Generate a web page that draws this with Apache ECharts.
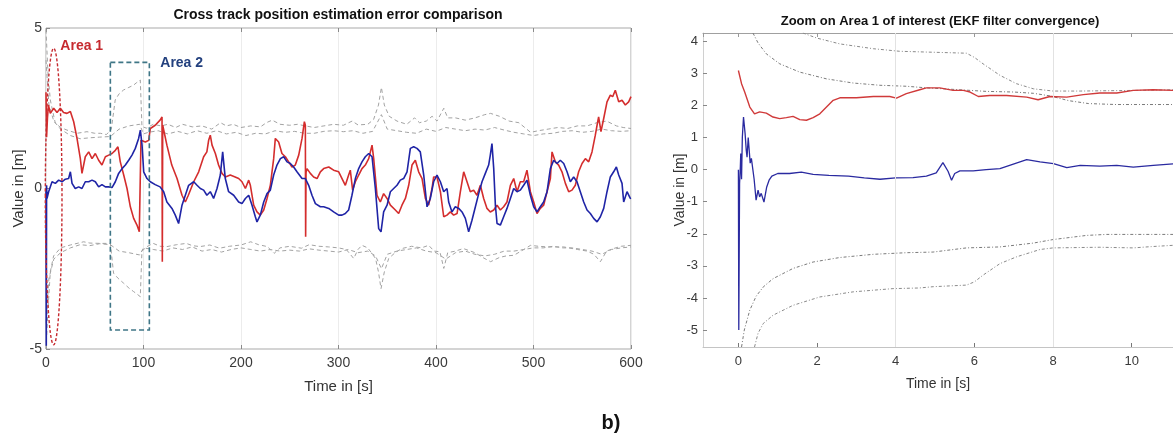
<!DOCTYPE html>
<html>
<head>
<meta charset="utf-8">
<script src="https://cdn.jsdelivr.net/npm/echarts@6/dist/echarts.min.js"></script>
<style>
html,body{margin:0;padding:0;background:#fff;}
#c{width:1173px;height:438px;}
</style>
</head>
<body>
<div id="c"></div>
<script>
// ---------------- DATA ----------------
const leftTitle = 'Cross track position estimation error comparison';
const rightTitle = 'Zoom on Area 1 of interest (EKF filter convergence)';
const xName = 'Time in [s]';
const yName = 'Value in [m]';
const panelTag = 'b)';
const area1Label = 'Area 1';
const area2Label = 'Area 2';

// Left panel: [time s, value m]
const leftRed = [[0,3.0],[0.6,1.6],[1.5,2.2],[2.5,2.6],[4.4,2.34],[7.9,2.5],[11.3,2.37],[14.7,2.5],[18,2.37],[21.5,2.34],[25,2.4],[28.4,2.08],[31.8,1.56],[35.2,0.93],[36.9,0.47],[40.3,0.99],[43.8,1.14],[47.2,0.93],[50.6,1.09],[54,0.88],[57.4,0.73],[60.9,0.99],[64.3,1.04],[67.7,1.09],[71.1,1.19],[73.8,1.3],[76.2,0.83],[79.7,0.42],[83.1,0],[86.5,-0.57],[89.9,-0.93],[93.3,-1.14],[95.7,-1.35],[97.1,-1.3],[97.4,1.5],[98.5,1.5],[101.9,1.45],[105.3,1.5],[107,1.87],[112,1.97],[117,2.13],[119,2.23],[119.3,-2.28],[119.7,1.97],[120.7,1.97],[124,1.35],[129,0.73],[134.4,0.31],[139.5,-0.21],[142.9,-0.42],[146,-0.21],[151.5,0.21],[156.6,0.52],[161.7,0.99],[165,1.14],[166.8,1.5],[168.5,1.66],[170.3,1.35],[173.7,1.09],[177,0.73],[180.5,0.47],[184,0.36],[189,0.42],[194,0.36],[197.6,0.31],[201,0.21],[204.5,0],[207.9,0.26],[209.6,0.1],[213,-0.52],[216.4,-0.73],[219.8,-0.83],[223.3,-0.67],[226.7,-0.31],[230.1,0.1],[233.5,0.93],[235.2,1.56],[238.6,1.45],[242,1.09],[245.5,0.99],[248.9,0.83],[252.3,0.67],[255.7,0.73],[259.2,1.04],[262.6,1.56],[265,2.08],[266,1.97],[266.3,-1.5],[266.7,0.5],[267.7,0.62],[271.1,0.47],[274.5,0.36],[278,0.31],[281.4,0.52],[284.8,0.62],[290,0.67],[295,0.57],[300.2,0.52],[303.6,0.31],[307,0.1],[310.4,0.42],[312.1,0.57],[314.5,-0.05],[317.3,0.21],[320.7,0.42],[324.1,0.62],[327.5,0.73],[331,0.93],[334.4,1.35],[336.1,0.93],[339.5,-0.21],[342.9,-0.42],[346.3,-0.16],[349.8,-0.31],[353.2,-0.52],[358.3,-0.67],[361.7,-0.78],[365.1,-0.52],[368.6,-0.31],[372,0.1],[375.4,0.73],[378.8,0.88],[382.2,0.52],[385.7,0.31],[389.1,-0.31],[392.5,-0.52],[395.9,0],[397.6,0.36],[401,0.36],[404.5,-0.1],[407.9,-0.88],[411.3,-0.83],[414.7,-0.73],[418.1,-0.83],[421.6,-0.78],[425,-0.1],[428.4,0.52],[431.8,0.21],[435.2,-0.1],[438.6,-0.05],[442,-0.21],[445.5,0.1],[448.9,-0.31],[452.3,-0.62],[455.7,-0.73],[459.2,-0.67],[462.6,-0.52],[466,-0.67],[469.4,-0.57],[472.8,-0.42],[476.3,0.1],[479.7,0.31],[483.1,-0.1],[486.5,0.21],[489.9,0.21],[493.3,0.57],[496.8,-0.1],[500.2,-0.42],[503.6,-0.78],[507,-0.62],[510.4,-0.52],[513.9,-0.1],[517.3,0.31],[519,1.14],[522.4,0.83],[525.8,0.73],[529.2,0.52],[532.7,0.16],[536.1,-0.1],[539.5,-0.05],[542.9,0.1],[546.3,0.52],[549.8,0.78],[553.2,0.93],[556.6,0.83],[560,1.14],[563.4,1.66],[565.2,1.97],[566.8,2.23],[569.2,1.77],[572,2.18],[575.4,2.7],[578.8,2.91],[581.2,2.86],[583.9,3.06],[587.4,2.7],[590.8,2.75],[594.2,2.6],[597.6,2.7],[600,2.86]];

const leftBlue = [[0,0],[0.3,-4.9],[0.6,0.1],[1,-0.31],[2.7,-0.1],[6.2,0.21],[9.6,0.16],[13,0.26],[16.4,0.21],[19.8,0.29],[23.2,0.31],[25,0.52],[26.7,0.16],[30,0],[33.5,0.05],[36.9,0],[40.3,0.21],[43.8,0.21],[47.2,0.26],[50.6,0.21],[54,0.05],[57.4,0.12],[60.9,0.05],[64.3,0.05],[67.7,0.03],[71.1,0.21],[74.5,0.47],[78,0.62],[81.4,0.73],[84.8,0.88],[88.2,1.04],[91.6,1.25],[95,1.56],[96.8,1.82],[98.5,1.35],[100.2,0.52],[103.6,0.31],[107,0.21],[112,0.12],[117,0.05],[120.7,-0.1],[124,-0.42],[129.2,-0.62],[132.6,-0.83],[136,-1.09],[139.5,-0.52],[142.9,-0.21],[146.3,0.1],[151.5,0.21],[154.9,0.1],[158.3,0],[161.7,-0.05],[165,-0.21],[168.5,-0.1],[171.9,-0.31],[175.4,0],[178.8,0.42],[181.2,1.14],[183.9,0.31],[187.3,-0.1],[192.5,-0.21],[197.6,-0.42],[201,-0.47],[204.5,-0.31],[207.9,-0.21],[211.3,-0.52],[214.7,-0.88],[216.4,-1.04],[219.8,-0.83],[223.3,-0.42],[226.7,-0.16],[230.1,-0.05],[233.5,0.42],[236.9,0.73],[240.4,0.93],[243.8,0.99],[247.2,0.83],[250.6,0.78],[254,0.67],[257.4,0.52],[262.6,0.31],[266,0.31],[269.4,0.1],[272.8,-0.21],[276.3,-0.47],[281.4,-0.57],[284.8,-0.57],[290,-0.62],[295,-0.73],[300.2,-0.83],[303.6,-0.83],[307,-0.78],[310.4,-0.67],[313.8,-0.21],[317.3,0.31],[320.7,0.62],[324.1,0.83],[327.5,0.99],[331,1.09],[334.4,0.99],[337.8,0],[341.2,-1.25],[343.6,-1.35],[346.3,-0.73],[349.8,-0.52],[353.2,-0.1],[356.6,0],[360,0.1],[363.4,0.26],[366.8,0.31],[370.3,0.52],[373.7,1.25],[377.1,1.3],[380.5,1.25],[383.9,1.14],[387.4,0.42],[390.8,-0.57],[394.2,-0.31],[397.6,0.21],[401,0.42],[404.5,0.21],[407.9,-0.1],[411.3,0],[413,-0.42],[416.4,-0.73],[419.8,-0.57],[423.3,-0.62],[426.7,-0.73],[430.1,-0.93],[433.5,-1.35],[436.9,-0.99],[440.4,-0.57],[443.8,-0.16],[447.2,0.21],[450.6,0.47],[454,0.73],[455.7,1.04],[457.4,1.4],[459.2,0.62],[460.9,-0.52],[462.6,-1.09],[466,-1.14],[469.4,-0.88],[472.8,-0.62],[476.3,-0.31],[479.7,0],[483.1,-0.1],[486.5,-0.05],[489.9,0.1],[493.3,0.26],[496.8,-0.21],[500.2,-0.57],[503.6,-0.73],[507,-0.57],[510.4,-0.42],[513.9,-0.1],[517.3,0.62],[520.7,0.88],[524.1,0.78],[527.5,0.88],[531,0.78],[534.4,0.52],[537.8,0.21],[541.2,0.36],[544.6,0.21],[548,-0.1],[551.5,-0.42],[554.9,-0.67],[558.3,-0.78],[561.7,-0.93],[565.2,-1.04],[568.6,-0.88],[572,-0.62],[575.4,-0.1],[578.8,0.36],[582.2,0.52],[585,0.67],[587.4,0.42],[590.8,0.16],[592.5,-0.42],[595.9,-0.1],[599.3,-0.31],[600,-0.3]];

const leftUpperA = [[0,4.95],[2,3.6],[4.4,2.76],[9.5,2.04],[15,1.9],[21.5,1.82],[31.8,1.72],[42,1.77],[50,1.72],[55.7,1.72],[62,1.68],[67,1.85],[71,2.76],[75,2.95],[79.6,3.07],[85,3.15],[89.8,3.22],[93,3.3],[96.7,3.38],[98.4,1.93],[103,1.88],[110,2.0],[118,1.95],[125,2.0],[133,1.9],[140,2.0],[150,1.92],[160,1.95],[170,1.85],[179,2.05],[185,1.95],[192,2.0],[200,1.9],[210,1.95],[220,1.92],[226,2.05],[232,2.13],[240,2.0],[250,1.97],[258,2.0],[266,1.95],[275,1.9],[285,1.95],[295,2.0],[305,1.97],[314,2.1],[320,1.98],[330,2.0],[336,2.15],[341,2.6],[344,3.15],[347,2.6],[352,2.25],[360,2.1],[370,2.0],[378,2.2],[383,2.05],[390,2.1],[396,2.25],[401,2.1],[408,2.5],[412,2.2],[420,2.2],[430,2.13],[440,2.2],[450,2.3],[456,2.34],[465,2.25],[475,2.1],[485,2.05],[497,1.75],[505,1.8],[515,1.85],[525,1.9],[535,1.87],[545,1.95],[555,1.95],[565,2.05],[575,2.1],[585,1.95],[592,1.9],[600,1.87]];

const leftUpperB = [[0,4.0],[3,2.6],[8,2.1],[15,1.85],[25,1.65],[35,1.55],[45,1.58],[55,1.6],[66,1.62],[75,1.85],[85,1.95],[96,2.0],[100,1.7],[105,1.75],[115,1.8],[125,1.7],[135,1.78],[145,1.7],[155,1.8],[165,1.72],[175,1.8],[185,1.7],[195,1.75],[205,1.65],[215,1.72],[225,1.7],[235,1.8],[245,1.75],[255,1.78],[265,1.72],[275,1.72],[285,1.78],[295,1.8],[305,1.77],[315,1.8],[325,1.72],[335,1.78],[344,2.3],[350,1.85],[360,1.8],[370,1.75],[380,1.72],[390,1.85],[400,1.78],[410,1.9],[420,1.85],[430,1.8],[440,1.85],[450,1.82],[460,1.9],[470,1.82],[480,1.75],[490,1.7],[500,1.65],[510,1.7],[520,1.72],[530,1.78],[540,1.8],[550,1.75],[560,1.78],[570,1.85],[580,1.8],[590,1.78],[600,1.8]];

const leftLowerA = [[0,-5.0],[2,-3.8],[4.4,-2.6],[7.8,-2.1],[15,-1.85],[25,-1.76],[38.6,-1.66],[45,-1.7],[55.7,-1.71],[66,-1.71],[69.3,-2.64],[74,-2.8],[79.6,-2.95],[85,-3.1],[89.8,-3.21],[93,-3.28],[96.7,-3.37],[98.4,-1.95],[103.6,-1.81],[110,-1.71],[117,-1.8],[124,-1.81],[134,-1.75],[144,-1.71],[150,-1.78],[158,-1.81],[168,-1.76],[178,-1.86],[188,-1.8],[200,-1.76],[210,-1.66],[218,-1.75],[227,-1.81],[234,-2.02],[240,-1.85],[250,-1.8],[262,-1.86],[270,-1.75],[280,-1.8],[290,-1.82],[300,-1.85],[308,-1.9],[315.6,-2.18],[320,-1.9],[324,-1.77],[330,-1.85],[338,-2.18],[341,-2.6],[343.6,-3.12],[347,-2.6],[351.5,-2.18],[358,-2.0],[365,-1.87],[375,-1.8],[385,-1.85],[392.5,-1.77],[398,-1.95],[404,-1.97],[408,-2.49],[412,-2.0],[420,-1.95],[428,-1.87],[440,-2.0],[448,-2.15],[456,-2.28],[465,-2.15],[472,-2.1],[480,-2.08],[490,-1.9],[497,-1.77],[505,-1.8],[515,-1.82],[531,-1.82],[545,-1.9],[555,-1.95],[562,-2.05],[568.6,-2.28],[575,-1.95],[582,-1.87],[590,-1.8],[600,-1.77]];

const leftLowerB = [[0,-4.2],[3,-2.8],[8,-2.2],[15,-2.0],[25,-1.85],[35,-1.75],[45,-1.78],[55,-1.72],[66,-1.75],[75,-1.95],[85,-2.0],[96,-2.07],[100,-1.85],[110,-1.9],[120,-1.95],[130,-1.85],[140,-1.9],[150,-1.82],[160,-1.95],[170,-1.9],[180,-1.98],[190,-1.9],[200,-1.85],[210,-1.9],[220,-1.95],[230,-1.9],[240,-1.95],[250,-1.92],[260,-1.95],[270,-1.88],[280,-1.92],[290,-1.95],[300,-1.98],[310,-1.9],[320,-2.0],[330,-1.95],[338,-2.1],[344,-2.5],[350,-2.05],[360,-1.95],[370,-1.9],[380,-1.85],[390,-1.95],[400,-2.0],[410,-2.2],[420,-2.0],[430,-1.95],[440,-2.05],[450,-2.1],[460,-2.05],[470,-1.95],[480,-1.95],[490,-1.9],[500,-1.85],[510,-1.85],[520,-1.8],[530,-1.85],[540,-1.85],[550,-1.9],[560,-1.95],[570,-2.05],[580,-1.9],[590,-1.85],[600,-1.82]];

// Right panel (zoom on Area 1): [time s, value m]
const rightRed = [[0,3.09],[0.08,2.68],[0.16,2.42],[0.29,1.95],[0.41,1.74],[0.54,1.8],[0.71,1.76],[0.88,1.64],[1.05,1.59],[1.22,1.62],[1.39,1.66],[1.56,1.56],[1.73,1.54],[1.9,1.62],[2.07,1.74],[2.24,1.95],[2.41,2.16],[2.58,2.24],[3.0,2.24],[3.43,2.28],[3.85,2.28],[4.02,2.23],[4.27,2.37],[4.61,2.49],[4.78,2.55],[5.12,2.55],[5.46,2.47],[5.72,2.47],[5.89,2.42],[6.1,2.28],[6.39,2.31],[6.82,2.31],[7.33,2.26],[7.62,2.18],[7.92,2.28],[8.35,2.26],[8.77,2.34],[9.19,2.39],[9.62,2.39],[10.04,2.47],[10.55,2.49],[11.05,2.47]];

const rightBlue = [[0,0],[0.01,-5.0],[0.03,-0.43],[0.05,0.1],[0.06,0.5],[0.08,-0.3],[0.1,1.0],[0.13,1.64],[0.17,1.13],[0.2,0.6],[0.22,0.39],[0.25,1.0],[0.27,0.95],[0.3,0.2],[0.33,0.35],[0.35,0.29],[0.4,-0.3],[0.45,-0.95],[0.5,-0.64],[0.54,-0.85],[0.58,-0.74],[0.65,-1.01],[0.72,-0.54],[0.78,-0.33],[0.85,-0.2],[1.0,-0.12],[1.3,-0.12],[1.6,-0.08],[1.9,-0.15],[2.3,-0.18],[2.8,-0.2],[3.2,-0.26],[3.6,-0.3],[4.0,-0.26],[4.44,-0.25],[4.78,-0.2],[5.03,-0.1],[5.2,0.22],[5.33,-0.05],[5.42,-0.33],[5.5,-0.12],[5.63,-0.04],[5.97,-0.04],[6.3,0],[6.65,0.03],[6.99,0.17],[7.33,0.31],[7.67,0.24],[8.01,0.19],[8.35,0.06],[8.69,0.13],[9.19,0.11],[9.62,0.13],[10.04,0.08],[10.55,0.13],[11.05,0.18]];

const rightUpper1 = [[0.37,4.26],[0.5,3.95],[0.71,3.61],[1.05,3.3],[1.56,3.04],[2.24,2.83],[2.92,2.7],[3.6,2.63],[4.27,2.6],[4.78,2.55],[5.5,2.5],[6.3,2.44],[7.0,2.42],[7.5,2.38],[7.92,2.3],[8.4,2.15],[8.9,2.06],[9.6,2.03],[11.05,2.03]];
const rightUpper2 = [[1.64,4.26],[2.0,4.1],[2.58,3.92],[3.43,3.77],[4.1,3.69],[4.95,3.66],[5.8,3.63],[6.0,3.5],[6.22,3.3],[6.65,2.94],[7.07,2.68],[7.5,2.52],[8.0,2.45],[8.69,2.45],[10.04,2.47],[11.05,2.49]];
const rightLower1 = [[0.08,-5.53],[0.15,-5.0],[0.29,-4.38],[0.45,-3.95],[0.63,-3.66],[0.88,-3.4],[1.39,-3.08],[1.9,-2.88],[2.58,-2.74],[3.43,-2.64],[4.27,-2.59],[4.95,-2.57],[5.8,-2.44],[6.65,-2.41],[7.5,-2.29],[8.0,-2.18],[8.86,-2.05],[9.36,-2.02],[11.05,-2.02]];
const rightLower2 = [[0.41,-5.53],[0.5,-5.1],[0.63,-4.8],[0.88,-4.54],[1.39,-4.23],[2.07,-3.97],[2.92,-3.81],[3.93,-3.71],[4.6,-3.69],[4.95,-3.65],[5.8,-3.6],[6.0,-3.5],[6.22,-3.29],[6.65,-2.93],[7.07,-2.72],[7.67,-2.49],[8.0,-2.44],[9.19,-2.42],[10.04,-2.44],[10.5,-2.4],[11.05,-2.36]];

// Annotation regions in data coordinates of the left panel
const area1Region = {t0:-0.7, t1:16.4, v0:4.37, v1:-4.87};
const area2Region = {t0:66, t1:106, v0:3.93, v1:-4.41};
const area1LabelAt = [14.7, 4.44];
const area2LabelAt = [117.2, 3.91];
const rightGridTimes = [4, 8];

// ---------------- CHART ----------------
const F = '"Liberation Sans", Arial, sans-serif';
const N = '"Liberation Sans Narrow", "Arial Narrow", "Liberation Sans", sans-serif';
const RED = '#d42d2d', BLUE = '#1f24a6', GRAY = '#a3a3a3';

const chart = echarts.init(document.getElementById('c'), null, {renderer:'canvas'});

function line(data, color, width, xi, yi, type, z) {
  return {type:'line', data, xAxisIndex:xi, yAxisIndex:yi, showSymbol:false, symbol:'none',
    lineStyle:{color, width, type: type || 'solid'}, z: z || 2, animation:false, silent:true};
}

const leftX = {gridIndex:0, type:'value', min:0, max:600, interval:100};
const rightX = {gridIndex:1, type:'value', min:-0.9, max:11.05, splitNumber:6, minInterval:2, maxInterval:2};

const option = {
  animation:false,
  backgroundColor:'#ffffff',
  grid:[
    {left:46, right:542, top:28, bottom:89, show:true, borderColor:'#a9a9a9', borderWidth:1, backgroundColor:'transparent'},
    {left:703, right:0, top:33, bottom:91}
  ],
  xAxis:[
    Object.assign({}, leftX, {position:'bottom', axisLine:{show:false, onZero:false},
      axisTick:{inside:true, length:4, lineStyle:{color:'#8a8a8a'}},
      axisLabel:{margin:7, fontSize:14, color:'#3a3a3a', fontFamily:F},
      splitLine:{show:true, lineStyle:{color:'#ececec', width:1}},
      name:xName, nameLocation:'middle', nameGap:30, nameMoveOverlap:false,
      nameTextStyle:{fontSize:15, color:'#333', fontFamily:F}}),
    Object.assign({}, leftX, {position:'top', axisLine:{show:false, onZero:false},
      axisTick:{inside:true, length:4, lineStyle:{color:'#8a8a8a'}},
      axisLabel:{show:false}, splitLine:{show:false}}),
    Object.assign({}, rightX, {position:'bottom', axisLine:{show:true, onZero:false, lineStyle:{color:'#c4c4c4'}},
      axisTick:{inside:true, length:4, lineStyle:{color:'#777'}},
      axisLabel:{margin:8, fontSize:13, color:'#3a3a3a', fontFamily:N, showMinLabel:false, showMaxLabel:false},
      splitLine:{show:false},
      name:xName, nameLocation:'middle', nameGap:30, nameMoveOverlap:false,
      nameTextStyle:{fontSize:14, color:'#333', fontFamily:N}}),
    Object.assign({}, rightX, {position:'top', axisLine:{show:true, onZero:false, lineStyle:{color:'#a0a0a0'}},
      axisTick:{inside:true, length:4, lineStyle:{color:'#999'}},
      axisLabel:{show:false}, splitLine:{show:false}})
  ],
  yAxis:[
    {gridIndex:0, type:'value', min:-5, max:5, interval:5, axisLine:{show:false, onZero:false},
      axisTick:{inside:true, length:4, lineStyle:{color:'#8a8a8a'}},
      axisLabel:{margin:4, fontSize:14, color:'#3a3a3a', fontFamily:F},
      splitLine:{show:false},
      name:yName, nameLocation:'middle', nameGap:20, nameMoveOverlap:false,
      nameTextStyle:{fontSize:15, color:'#333', fontFamily:F}},
    {gridIndex:1, type:'value', min:-5.53, max:4.26, splitNumber:10, minInterval:1, maxInterval:1,
      axisLine:{show:true, onZero:false, lineStyle:{color:'#d0d0d0'}},
      axisTick:{inside:true, length:4, lineStyle:{color:'#888'}},
      axisLabel:{margin:5, fontSize:13, color:'#3a3a3a', fontFamily:N, showMinLabel:false, showMaxLabel:false},
      splitLine:{show:false},
      name:yName, nameLocation:'middle', nameGap:16, nameMoveOverlap:false,
      nameTextStyle:{fontSize:14, color:'#333', fontFamily:N}}
  ],
  series:[
    line(leftUpperA, GRAY, 1, 0, 0, [4,3]),
    line(leftUpperB, GRAY, 1, 0, 0, [4,3]),
    line(leftLowerA, GRAY, 1, 0, 0, [4,3]),
    line(leftLowerB, GRAY, 1, 0, 0, [4,3]),
    line(leftRed, RED, 1.6, 0, 0, 'solid', 3),
    line(leftBlue, BLUE, 1.6, 0, 0, 'solid', 4),
    Object.assign(line(rightUpper1, '#7a7a7a', 1, 2, 1, [3,2,1,2]), {
      markLine:{silent:true, symbol:'none', label:{show:false}, animation:false,
        lineStyle:{color:'#e2e2e2', width:1, type:'solid'},
        data: rightGridTimes.map(t => ({xAxis:t}))}}),
    line(rightUpper2, '#8a8a8a', 1, 2, 1, [3,2,1,2]),
    line(rightLower1, '#7a7a7a', 1, 2, 1, [3,2,1,2]),
    line(rightLower2, '#8a8a8a', 1, 2, 1, [3,2,1,2]),
    line(rightRed, '#d03a3a', 1.4, 2, 1, 'solid', 3),
    line(rightBlue, '#2a2aa0', 1.3, 2, 1, 'solid', 4)
  ]
};
chart.setOption(option);

// Annotations placed through the axes' own scales
const P = pt => chart.convertToPixel({xAxisIndex:0, yAxisIndex:0}, pt);
const e0 = P([area1Region.t0, area1Region.v0]);
const e1 = P([area1Region.t1, area1Region.v1]);
const b0 = P([area2Region.t0, area2Region.v0]);
const b1 = P([area2Region.t1, area2Region.v1]);
const l1 = P(area1LabelAt);
const l2 = P(area2LabelAt);

chart.setOption({
  graphic:[
    {type:'ellipse', z:100, silent:true,
      shape:{cx:(e0[0]+e1[0])/2, cy:(e0[1]+e1[1])/2, rx:Math.abs(e1[0]-e0[0])/2, ry:Math.abs(e1[1]-e0[1])/2},
      style:{fill:'none', stroke:'#c62a2f', lineWidth:1.4, lineDash:[3,2]}},
    {type:'rect', z:100, silent:true,
      shape:{x:Math.min(b0[0],b1[0]), y:Math.min(b0[1],b1[1]), width:Math.abs(b1[0]-b0[0]), height:Math.abs(b1[1]-b0[1])},
      style:{fill:'none', stroke:'#3f7686', lineWidth:1.6, lineDash:[5,3]}},
    {type:'text', z:100, silent:true, x:l1[0], y:l1[1],
      style:{text:area1Label, font:'bold 14px ' + F, fill:'#c62a2f', align:'left', verticalAlign:'middle'}},
    {type:'text', z:100, silent:true, x:l2[0], y:l2[1],
      style:{text:area2Label, font:'bold 14px ' + F, fill:'#23407e', align:'left', verticalAlign:'middle'}},
    {type:'text', z:100, silent:true, x:338, y:15,
      style:{text:leftTitle, font:'bold 14px ' + F, fill:'#111', align:'center', verticalAlign:'middle'}},
    {type:'text', z:100, silent:true, x:940, y:21,
      style:{text:rightTitle, font:'bold 13px ' + N, fill:'#111', align:'center', verticalAlign:'middle'}},
    {type:'text', z:100, silent:true, x:611, y:423,
      style:{text:panelTag, font:'bold 20px ' + F, fill:'#111', align:'center', verticalAlign:'middle'}}
  ]
});
</script>
</body>
</html>
